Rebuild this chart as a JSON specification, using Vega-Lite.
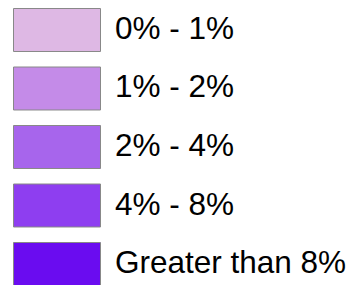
{
  "$schema": "https://vega.github.io/schema/vega-lite/v6.json",
  "width": 87,
  "height": 277,
  "padding": {"left": 12.5, "top": 7.5, "right": 0, "bottom": 0},
  "autosize": {"type": "pad"},
  "background": "#ffffff",
  "data": {
    "values": [
      {"range": "0% - 1%"},
      {"range": "1% - 2%"},
      {"range": "2% - 4%"},
      {"range": "4% - 8%"},
      {"range": "Greater than 8%"}
    ]
  },
  "mark": {"type": "rect", "stroke": "#888888", "strokeWidth": 1},
  "encoding": {
    "y": {
      "field": "range",
      "type": "nominal",
      "sort": null,
      "scale": {"paddingInner": 0.265, "paddingOuter": 0},
      "axis": {
        "orient": "right",
        "title": null,
        "domain": false,
        "ticks": false,
        "grid": false,
        "labelFontSize": 31.5,
        "labelFont": "Liberation Sans",
        "labelColor": "#000000",
        "labelPadding": 14,
        "labelLimit": 0
      }
    },
    "color": {
      "field": "range",
      "type": "nominal",
      "sort": null,
      "scale": {
        "domain": ["0% - 1%", "1% - 2%", "2% - 4%", "4% - 8%", "Greater than 8%"],
        "range": ["#deb8e4", "#c48be8", "#a765ec", "#8e3ef0", "#6a0cf0"]
      },
      "legend": null
    }
  },
  "config": {"view": {"stroke": null}}
}
